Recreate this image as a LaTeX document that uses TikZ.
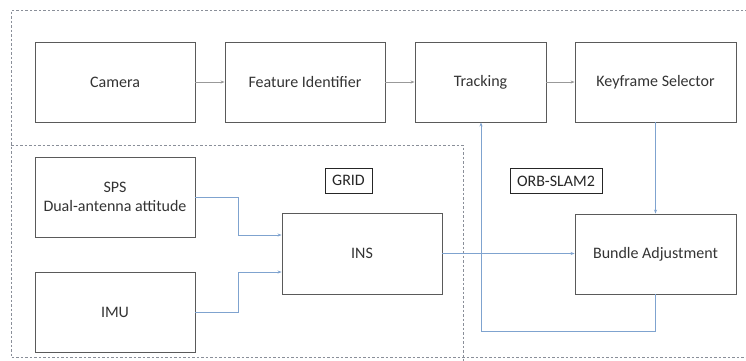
\documentclass[tikz,border=0pt]{standalone}
\usepackage{fontspec}
\setmainfont{Carlito}
\usetikzlibrary{arrows.meta}
\definecolor{boxgray}{HTML}{5A5A5A}
\definecolor{linkblue}{HTML}{7FA3CF}
\definecolor{dashgray}{HTML}{8A8F99}
\begin{document}
\begin{tikzpicture}[x=1pt,y=-1pt,
  blockbox/.style={draw=boxgray,line width=0.9pt,minimum width=160pt,minimum height=80pt,align=center,inner sep=0pt,font=\fontsize{16}{19}\selectfont,text=black!80},
  tagbox/.style={draw=black!85,line width=1pt,inner sep=0pt,minimum height=25pt,font=\fontsize{16}{19}\selectfont,text=black!85},
  graylink/.style={draw=gray!80,line width=0.6pt,-{Stealth[length=4pt,width=3pt]}},
  bluelink/.style={draw=linkblue,line width=0.7pt,-{Stealth[length=4pt,width=3pt]}},
  region/.style={draw=dashgray,line width=0.7pt,dash pattern=on 2.5pt off 2pt}]
\useasboundingbox (0,0) rectangle (746,360);
% regions
\draw[region] (752,10) -- (11,10) -- (11,357) -- (752,357);
\draw[region] (11,145) -- (463,145) -- (463,362);
% top row
\node[blockbox] (cam) at (115,82) {Camera};
\node[blockbox] (feat) at (305,82) {Feature Identifier};
\node[blockbox,minimum width=131pt] (trk) at (480.5,82) {Tracking};
\node[blockbox,minimum width=161pt] (key) at (655.5,82) {Keyframe Selector};
% lower
\node[blockbox] (sps) at (115,197) {SPS\\Dual-antenna attitude};
\node[blockbox] (imu) at (115,312) {IMU};
\node[blockbox,minimum height=81pt] (ins) at (362,253.5) {INS};
\node[blockbox,minimum width=161pt] (ba) at (655.5,254) {Bundle Adjustment};
\node[tagbox,minimum width=47pt] (grid) at (348.5,180.5) {GRID};
\node[tagbox,minimum width=92pt] (orb) at (556,181) {ORB-SLAM2};
% connectors
\draw[graylink] (cam) -- (feat);
\draw[graylink] (feat) -- (trk);
\draw[graylink] (trk) -- (key);
\coordinate (c1) at (238,197);
\coordinate (c2) at (238,312);
\draw[bluelink] (sps.east) -- (c1) |- ([yshift=18.5pt]ins.west);
\draw[bluelink] (imu.east) -- (c2) |- ([yshift=-18.5pt]ins.west);
\draw[bluelink] (ins.east) -- (ins.east -| ba.west);
\draw[bluelink] (key.south) -- (ba.north);
\coordinate (lp) at (481,331);
\draw[bluelink] (ba.south) |- (lp) -- (lp |- trk.south);
\end{tikzpicture}
\end{document}
